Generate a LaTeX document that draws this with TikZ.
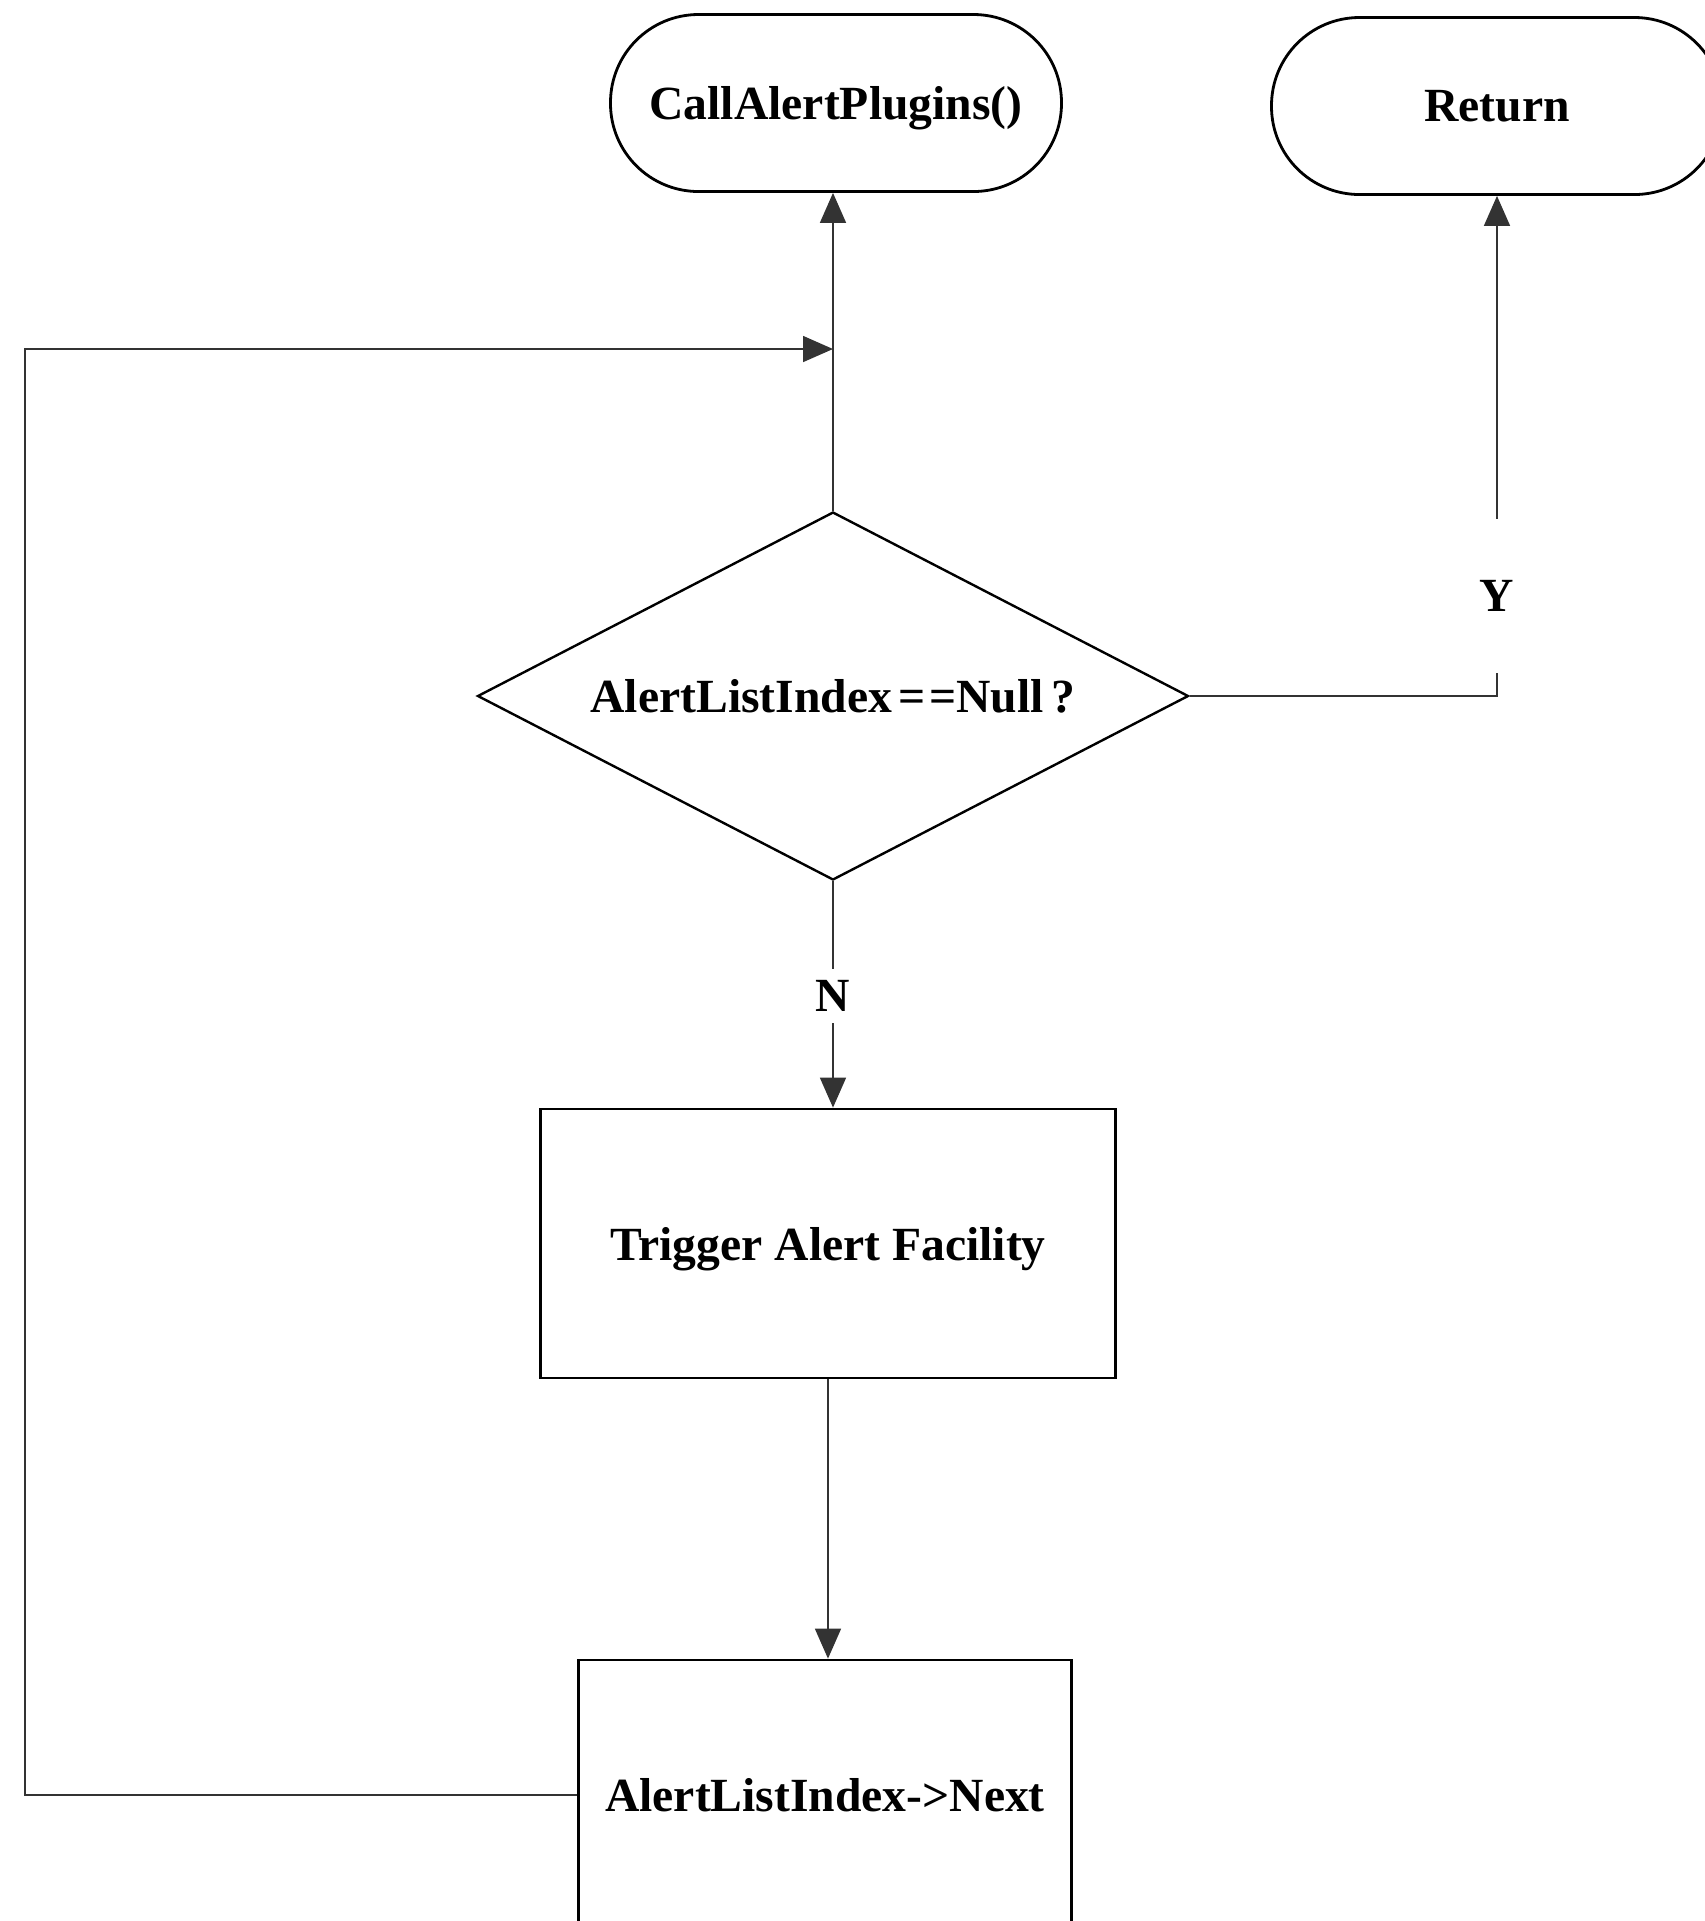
\documentclass[tikz,border=0pt]{standalone}
\usepackage{fontspec}
\setmainfont{Liberation Serif}
\usetikzlibrary{shapes.geometric,arrows.meta}
\begin{document}
\begin{tikzpicture}[x=0.25pt,y=-0.25pt,
  every node/.style={font=\fontsize{11.9}{14}\selectfont\bfseries,text depth=0pt},
  terminal/.style={draw,line width=0.7pt,rectangle,rounded corners=22pt,
    minimum width=112.75pt,minimum height=44.25pt,inner sep=0pt},
  procbox/.style={draw,line width=0.7pt,rectangle,inner sep=0pt},
  decision/.style={draw,line width=0.6pt,diamond,aspect=1.93,inner sep=0pt,
    minimum width=177.75pt,minimum height=92pt},
  branch/.style={inner sep=0pt,fill=white},
  conn/.style={line width=0.4pt,black!80},
  arr/.style={conn,-{Triangle[width=6.5pt,length=7.5pt]}}]
\useasboundingbox (0,0) rectangle (1705,1921);

% terminals
\node[terminal] (call) at (836,103) {CallAlertPlugins()};
\node[terminal] (ret) at (1497,106) {Return};

% decision
\node[decision] (dec) at (833,696) {AlertListIndex\kern1.5pt=\kern1pt=Null\kern2pt?};

% process boxes
\node[procbox,minimum width=143.75pt,minimum height=67.25pt] (trig) at (828,1243.5) {Trigger Alert Facility};
\node[procbox,minimum width=123.25pt,minimum height=67.5pt] (nxt) at (825,1795) {AlertListIndex->Next};

% branch labels
\node[branch,minimum height=38.25pt] (ylab) at (1497,596) {Y};
\node[branch,minimum height=13.25pt] (nlab) at (833,996) {N};

% loop corner
\coordinate (loopT) at (25,349);

% connectors
\draw[arr] (dec.north) -- (dec.north |- call.south);
\draw[arr] (nxt.west) -| (loopT) -- (dec.north |- loopT);
\draw[conn] (dec.east) -| (ylab.south);
\draw[arr] (ylab.north) -- (ret.south);
\draw[conn] (dec.south) -- (nlab.north);
\draw[arr] (nlab.south) -- (nlab.south |- trig.north);
\draw[arr] (trig.south) -- (trig.south |- nxt.north);
\end{tikzpicture}
\end{document}
